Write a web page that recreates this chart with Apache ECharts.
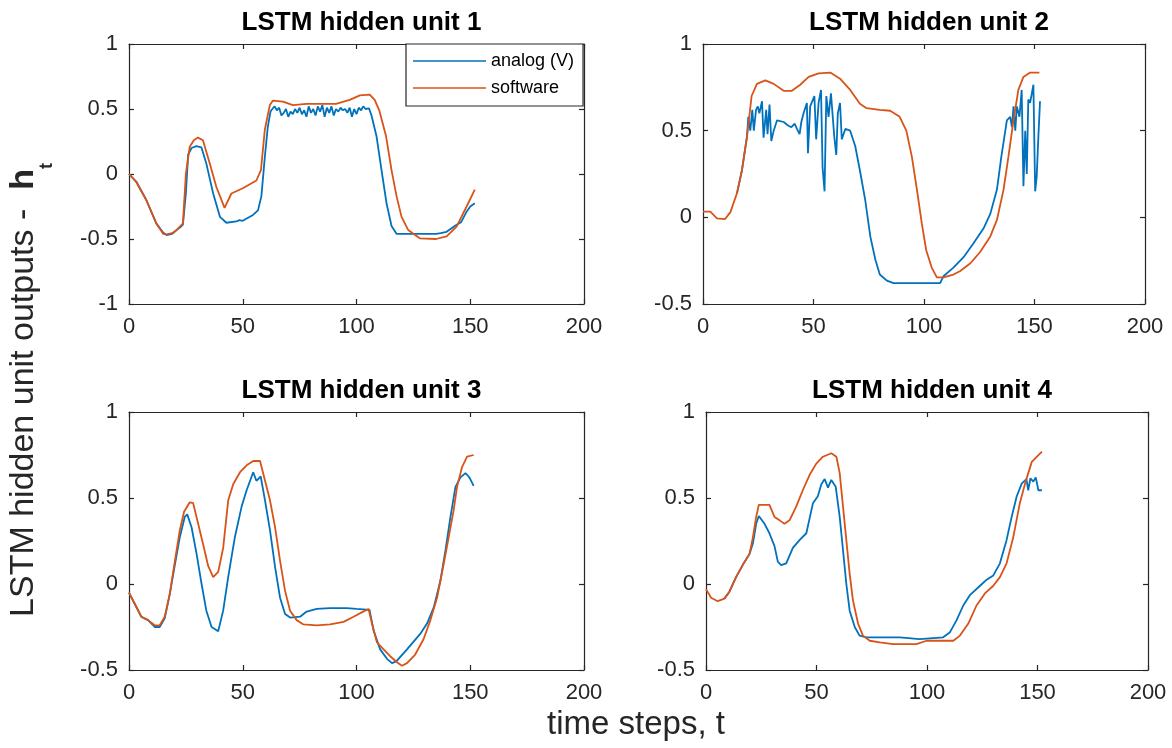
<!DOCTYPE html>
<html>
<head>
<meta charset="utf-8">
<script src="https://cdn.jsdelivr.net/npm/echarts/dist/echarts.min.js"></script>
<style>html,body{margin:0;padding:0;background:#fff}#chart{width:1172px;height:748px}</style>
</head>
<body>
<div id="chart"></div>
<script>
// ---------- data ----------
const seriesNames = ['analog (V)', 'software'];
const panelTitles = ['LSTM hidden unit 1', 'LSTM hidden unit 2', 'LSTM hidden unit 3', 'LSTM hidden unit 4'];
const xTicks = [0, 50, 100, 150, 200];
const yTicksUnit1 = [-1, -0.5, 0, 0.5, 1];
const yTicksUnit2 = [-0.5, 0, 0.5, 1];
const yTicksUnit3 = [-0.5, 0, 0.5, 1];
const yTicksUnit4 = [-0.5, 0, 0.5, 1];

const unit1Analog = [[0,0],[3.2,-0.06],[7.6,-0.2],[12,-0.38],[15,-0.45],[16.5,-0.47],[19,-0.46],[21,-0.43],[22.5,-0.41],[23.7,-0.39],[25,-0.15],[26,0.15],[27.5,0.2],[29.6,0.215],[31.8,0.205],[34,0.08],[37,-0.15],[40,-0.33],[42.8,-0.375],[47.2,-0.365],[48.5,-0.355],[50,-0.36],[54.5,-0.315],[56.7,-0.28],[58.2,-0.17],[59.7,0.13],[61,0.36],[62.2,0.48],
  [63,0.50],[64,0.52],[65,0.49],[66,0.51],[67,0.45],[68,0.47],[69,0.50],[70,0.44],[71,0.48],[72,0.46],[73,0.50],[74,0.47],[75,0.51],[76,0.46],[77,0.49],[78,0.44],[79,0.52],[80,0.47],[81,0.50],[82,0.45],[83,0.52],[84,0.48],[85,0.53],[86,0.44],[87,0.51],[88,0.47],[89,0.52],[90,0.45],[91,0.50],[92,0.48],[93,0.51],[94,0.49],[95,0.50],[96,0.47],[97,0.51],[98,0.44],[99,0.50],[100,0.46],[101,0.51],[102,0.49],[103,0.52],[104,0.50],
  [105.5,0.505],[106.6,0.45],[108.8,0.29],[111,0.03],[113.2,-0.225],[115.4,-0.4],[117.6,-0.46],[122,-0.46],[135,-0.46],[137,-0.455],[139.6,-0.445],[144,-0.39],[146,-0.37],[148.4,-0.29],[150,-0.25],[152,-0.225]];
const unit1Software = [[0,0],[3.2,-0.06],[7.6,-0.2],[12,-0.38],[15,-0.46],[16.4,-0.465],[19,-0.455],[21,-0.43],[23.7,-0.38],[25,0.0],[26.7,0.21],[28.5,0.26],[30.3,0.28],[32.5,0.26],[35.5,0.08],[38.4,-0.1],[42,-0.26],[45,-0.15],[50,-0.11],[56,-0.05],[58,0.03],[59.7,0.34],[61.9,0.53],[63.3,0.565],[67.7,0.556],[72,0.53],[78,0.54],[85,0.54],[91,0.54],[97,0.57],[101.5,0.605],[105.8,0.61],[108,0.57],[110,0.49],[113,0.29],[115.4,0.03],[117.6,-0.17],[119.8,-0.33],[122.7,-0.43],[127.8,-0.495],[135,-0.5],[139.6,-0.48],[144,-0.405],[148.4,-0.25],[152,-0.12]];

const unit2Analog = [[15.4,0.14],[17.6,0.27],[19.9,0.465],[20.5,0.58],[21.4,0.5],[22.3,0.62],[23,0.5],[24,0.62],[24.8,0.64],[25.5,0.6],[26.7,0.67],[27.4,0.46],[28.6,0.62],[29.2,0.48],[30.1,0.65],[30.9,0.44],[32,0.5],[33.5,0.56],[36.5,0.55],[38.5,0.53],[40,0.52],[41.5,0.54],[42.5,0.51],[43.7,0.48],[44.5,0.55],[45.5,0.6],[47,0.66],[47.5,0.37],[48.5,0.64],[50.4,0.7],[51.2,0.45],[52.3,0.66],[53.4,0.735],[54.1,0.29],[55,0.15],[55.8,0.7],[56.8,0.58],[57.9,0.715],[58.8,0.725],[59.4,0.465],[60.3,0.36],[61,0.6],[62,0.66],[62.8,0.45],[64.4,0.51],[66.6,0.5],[68.9,0.41],[71,0.27],[73.4,0.1],[75.7,-0.11],[78,-0.245],[80,-0.33],[83.2,-0.365],[86.2,-0.38],[93.7,-0.38],[107.3,-0.38],[108.8,-0.34],[113.3,-0.29],[117.9,-0.23],[122.4,-0.15],[126.9,-0.065],[130,0.02],[133,0.16],[135,0.35],[137.5,0.56],[139,0.58],[139.8,0.52],[140.5,0.64],[141.3,0.5],[142,0.64],[143.2,0.58],[144.2,0.735],[145,0.18],[145.8,0.5],[146.5,0.25],[147.2,0.68],[148,0.66],[148.8,0.715],[149.5,0.765],[150.3,0.15],[151,0.235],[151.8,0.48],[152.5,0.67]];
const unit2Software = [[0,0.033],[3.3,0.033],[6.3,-0.006],[10,-0.01],[12.4,0.03],[15.4,0.14],[17.6,0.27],[19.9,0.465],[22,0.7],[24.4,0.77],[28.2,0.79],[32,0.77],[36.5,0.73],[40.2,0.73],[44,0.765],[47.8,0.81],[52.3,0.83],[57.6,0.835],[62,0.8],[66.6,0.735],[71,0.655],[74,0.63],[80,0.62],[84.7,0.615],[89,0.58],[92,0.5],[94.5,0.35],[96.8,0.16],[99,-0.035],[101,-0.19],[103.5,-0.29],[105.8,-0.346],[108.8,-0.346],[113.3,-0.33],[116.4,-0.31],[121,-0.265],[125.4,-0.2],[130,-0.11],[133,-0.015],[136,0.16],[138.2,0.35],[140.5,0.56],[142.7,0.735],[145,0.81],[148,0.835],[152.2,0.835]];

const unit3Analog = [[0,-0.05],[2.5,-0.115],[5.4,-0.19],[8.4,-0.21],[11.3,-0.25],[13.5,-0.25],[15.7,-0.2],[17.9,-0.06],[20,0.1],[22.3,0.27],[24.5,0.39],[25.6,0.405],[27.5,0.33],[29.7,0.175],[31.9,0],[34,-0.155],[36.3,-0.25],[39.2,-0.275],[41.4,-0.155],[43.6,0.04],[46.5,0.27],[49.5,0.45],[51.7,0.545],[54.6,0.65],[56,0.6],[57.9,0.625],[59.8,0.485],[62,0.31],[64.2,0.1],[66.4,-0.08],[68.6,-0.175],[70.8,-0.195],[75.2,-0.19],[78.1,-0.16],[82.5,-0.145],[88.4,-0.14],[95.7,-0.14],[100,-0.145],[105.7,-0.15],[107.5,-0.27],[110.4,-0.38],[113.4,-0.435],[115.6,-0.46],[117.5,-0.45],[122.2,-0.38],[128,-0.29],[131,-0.23],[134,-0.135],[136.9,0.02],[139.1,0.195],[141.3,0.39],[143.5,0.565],[145.7,0.62],[147.9,0.645],[149.3,0.625],[150,0.61],[151.5,0.57]];
const unit3Software = [[0,-0.05],[2.5,-0.115],[5.4,-0.19],[8.4,-0.21],[11.3,-0.24],[13.5,-0.24],[15.7,-0.19],[17.9,-0.06],[20,0.12],[22.3,0.31],[24.2,0.42],[26.7,0.475],[28.2,0.47],[30.4,0.35],[32.6,0.23],[34.8,0.105],[37,0.04],[39.2,0.07],[41.4,0.21],[43.6,0.485],[45.8,0.58],[48.8,0.65],[51.7,0.69],[54.6,0.715],[57.6,0.715],[59.8,0.6],[62,0.485],[64.2,0.33],[66.4,0.135],[68.6,-0.04],[70.8,-0.155],[73.7,-0.21],[76.7,-0.235],[82.5,-0.24],[88.4,-0.235],[94.3,-0.22],[98.7,-0.19],[102.3,-0.165],[105.3,-0.145],[106.8,-0.23],[109,-0.34],[111.9,-0.38],[114.8,-0.42],[117.8,-0.455],[120,-0.475],[122.2,-0.46],[125.8,-0.41],[129.5,-0.32],[132.5,-0.21],[135.4,-0.08],[138.3,0.115],[140.5,0.27],[142.7,0.43],[144.2,0.565],[146.4,0.68],[148.6,0.74],[151.5,0.75]];

const unit4Analog = [[8.3,-0.085],[10.6,-0.045],[13.6,0.04],[16.6,0.11],[19.7,0.175],[21.2,0.235],[22.7,0.35],[23.9,0.395],[26.5,0.35],[28.7,0.295],[31,0.22],[32.5,0.13],[34,0.11],[36.3,0.12],[39.3,0.21],[42.3,0.255],[45.4,0.295],[48.4,0.47],[50.6,0.51],[52.2,0.58],[53.7,0.61],[55.2,0.56],[56.7,0.605],[58.7,0.565],[60.5,0.39],[62,0.195],[63.5,0],[65,-0.155],[67.3,-0.25],[69.5,-0.3],[72.6,-0.31],[78.6,-0.31],[87.7,-0.31],[96.7,-0.32],[107.3,-0.31],[110.4,-0.28],[113.4,-0.21],[116.4,-0.125],[119.4,-0.065],[124,-0.01],[127,0.025],[130,0.05],[133,0.12],[136,0.255],[138.3,0.39],[140.6,0.51],[142.9,0.585],[145,0.61],[145.8,0.545],[146.8,0.615],[148.1,0.595],[149.2,0.62],[150.4,0.545],[152,0.545]];
const unit4Software = [[0,-0.03],[2.3,-0.08],[5.3,-0.1],[8.3,-0.085],[10.6,-0.045],[13.6,0.04],[16.6,0.11],[19.7,0.175],[21.2,0.27],[22.7,0.39],[23.9,0.46],[28.7,0.46],[31,0.39],[33.3,0.37],[35.5,0.35],[37.8,0.37],[40.8,0.45],[43.8,0.545],[46.9,0.635],[49.9,0.7],[52.9,0.74],[56.7,0.76],[59,0.74],[60.5,0.645],[62,0.45],[63.5,0.255],[65,0.06],[66.5,-0.095],[68.8,-0.23],[71,-0.3],[74.1,-0.33],[78.6,-0.34],[84.7,-0.35],[95.2,-0.35],[99.8,-0.33],[107.3,-0.33],[111.9,-0.33],[114.9,-0.3],[118.7,-0.23],[122.4,-0.125],[126.2,-0.055],[130,-0.01],[133,0.04],[136,0.12],[139,0.27],[142,0.47],[144.4,0.585],[147.4,0.71],[152,0.77]];

// ---------- layout / style ----------
const FONT = '"Liberation Sans", Arial, Helvetica, sans-serif';
const AX = '#262626';
const BLUE = '#0072BD';
const ORANGE = '#D95319';
const grids = [
  {left: 129, top: 44, width: 455, height: 260},
  {left: 703, top: 44, width: 442, height: 260},
  {left: 129, top: 412, width: 455, height: 258},
  {left: 706, top: 412, width: 442, height: 258}
];
const yTickSets = [yTicksUnit1, yTicksUnit2, yTicksUnit3, yTicksUnit4];
const panelData = [[unit1Analog, unit1Software],[unit2Analog, unit2Software],[unit3Analog, unit3Software],[unit4Analog, unit4Software]];

const xAxes = [], yAxes = [], series = [], titles = [];
grids.forEach((g, i) => {
  const common = {
    gridIndex: i, type: 'value',
    axisLine: {show: true, onZero: false, lineStyle: {color: AX, width: 1.2}},
    axisTick: {show: true, inside: true, length: 5, lineStyle: {color: AX, width: 1.2}},
    splitLine: {show: false}
  };
  xAxes.push(Object.assign({}, common, {
    position: 'bottom', min: xTicks[0], max: xTicks[xTicks.length - 1], interval: xTicks[1] - xTicks[0],
    axisLabel: {color: AX, fontSize: 22, fontFamily: FONT, margin: 12, showMinLabel: true, showMaxLabel: true}
  }));
  xAxes.push(Object.assign({}, common, {
    position: 'top', min: xTicks[0], max: xTicks[xTicks.length - 1], interval: xTicks[1] - xTicks[0],
    axisLabel: {show: false}
  }));
  const yt = yTickSets[i];
  yAxes.push(Object.assign({}, common, {
    position: 'left', min: yt[0], max: yt[yt.length - 1], interval: yt[1] - yt[0],
    axisLabel: {color: AX, fontSize: 22, fontFamily: FONT, margin: 11, showMinLabel: true, showMaxLabel: true}
  }));
  yAxes.push(Object.assign({}, common, {
    position: 'right', min: yt[0], max: yt[yt.length - 1], interval: yt[1] - yt[0],
    axisLabel: {show: false}
  }));
  [BLUE, ORANGE].forEach((c, k) => {
    series.push({
      type: 'line', name: seriesNames[k], xAxisIndex: 2 * i, yAxisIndex: 2 * i,
      data: panelData[i][k], showSymbol: false, symbol: 'none', animation: false,
      lineStyle: {color: c, width: 1.8}, itemStyle: {color: c}, z: 2 + k
    });
  });
  titles.push({
    text: panelTitles[i], left: g.left + g.width / 2, textAlign: 'center',
    top: g.top - 39,
    textStyle: {fontSize: 26, fontWeight: 'bold', color: '#000', fontFamily: FONT}
  });
});

const option = {
  backgroundColor: '#fff',
  animation: false,
  title: titles,
  grid: grids,
  xAxis: xAxes,
  yAxis: yAxes,
  series: series,
  legend: {
    data: seriesNames, orient: 'vertical', left: 406, top: 44,
    padding: [8, 9, 9, 7], itemGap: 9, itemWidth: 73, itemHeight: 2,
    icon: 'path://M0 0H100V2H0Z',
    itemStyle: {borderWidth: 0},
    borderColor: AX, borderWidth: 1.2, backgroundColor: '#fff',
    textStyle: {fontSize: 18, color: '#000', fontFamily: FONT, padding: [0, 0, 0, 0]},
    selectedMode: false
  },
  graphic: [
    {
      type: 'text', x: 24, y: 390, rotation: Math.PI / 2,
      style: {
        text: '{a|LSTM hidden unit outputs -  }{b|h}{c|t}',
        align: 'center', verticalAlign: 'middle',
        rich: {
          a: {fontSize: 34, fontFamily: FONT, fill: AX, color: AX, lineHeight: 64},
          b: {fontSize: 34, fontFamily: FONT, fontWeight: 'bold', fill: AX, color: AX, lineHeight: 64},
          c: {fontSize: 18, fontFamily: FONT, fontWeight: 'bold', fill: AX, color: AX, lineHeight: 17, verticalAlign: 'bottom'}
        }
      }
    },
    {
      type: 'text', x: 636, y: 725,
      style: {text: 'time steps, t', fontSize: 33, fontFamily: FONT, fill: AX, align: 'center', verticalAlign: 'middle'}
    }
  ]
};

const chart = echarts.init(document.getElementById('chart'), null, {renderer: 'canvas'});
chart.setOption(option);
</script>
</body>
</html>
